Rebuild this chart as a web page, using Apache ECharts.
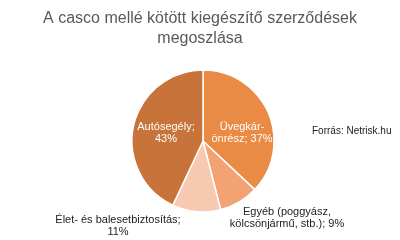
<!DOCTYPE html>
<html>
<head>
<meta charset="utf-8">
<script src="https://cdn.jsdelivr.net/npm/echarts@6/dist/echarts.min.js"></script>
<style>html,body{margin:0;padding:0;background:#fff}#c{width:400px;height:240px}</style>
</head>
<body>
<div id="c"></div>
<script>
var categories = ['Üvegkár-\nönrész', 'Egyéb (poggyász,\nkölcsönjármű, stb.)', 'Élet- és balesetbiztosítás', 'Autósegély'];
var values = [37, 9, 11, 43];
var colors = ['#E98A45', '#F2A273', '#F6C9B0', '#C8733A'];
var labelTexts = ['Üvegkár-\nönrész; 37%', 'Egyéb (poggyász,\nkölcsönjármű, stb.); 9%', 'Élet- és balesetbiztosítás;\n11%', 'Autósegély;\n43%'];
var labelPos = [[242, 133], [287, 218], [118, 226], [166, 133]];
var inside = [true, false, false, true];

var chart = echarts.init(document.getElementById('c'), null, {renderer: 'canvas'});
chart.setOption({
  animation: false,
  title: {
    text: 'A casco mellé kötött kiegészítő szerződések\nmegoszlása',
    left: 'center',
    top: 4,
    textStyle: {fontFamily: 'Liberation Sans', fontSize: 16, fontWeight: 'normal', color: '#595959', lineHeight: 20}
  },
  graphic: [{
    type: 'text', left: 312, top: 126,
    style: {text: 'Forrás: Netrisk.hu', font: '10px "Liberation Sans"', fill: '#222'}
  }],
  series: [{
    type: 'pie',
    center: [203, 141],
    radius: [0, 71],
    startAngle: 90,
    clockwise: true,
    itemStyle: {borderColor: '#fff', borderWidth: 1.5},
    labelLine: {show: false},
    data: categories.map(function (c, i) {
      return {
        name: c, value: values[i],
        itemStyle: {color: colors[i]},
        label: {
          show: true,
          position: inside[i] ? 'inside' : 'outside',
          formatter: labelTexts[i],
          color: inside[i] ? '#fff' : '#222',
          fontFamily: 'Liberation Sans',
          fontSize: 11,
          lineHeight: 12,
          align: 'center',
          overflow: 'none',
          width: 200
        }
      };
    }),
    labelLayout: function (p) {
      return {x: labelPos[p.dataIndex][0], y: labelPos[p.dataIndex][1], align: 'center', verticalAlign: 'middle'};
    }
  }]
});
</script>
</body>
</html>
